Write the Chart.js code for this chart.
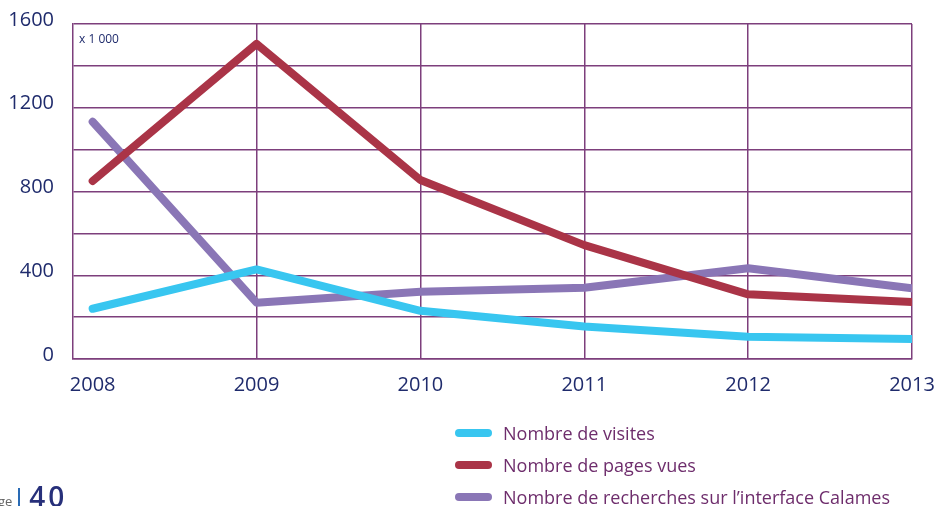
<!DOCTYPE html>
<html>
<head>
<meta charset="utf-8">
<script src="https://cdn.jsdelivr.net/npm/chart.js@4/dist/chart.umd.min.js"></script>
<style>
  html, body { margin: 0; padding: 0; background: #fff; overflow: hidden; }
  #wrap { position: relative; width: 939px; height: 506px; }
  #legend { position: absolute; left: 455px; top: 417px; font-family: 'Open Sans', sans-serif; font-size: 18px; color: #6e2d6c; }
  .item { display: flex; align-items: center; height: 32px; }
  .swatch { width: 37px; height: 8px; border-radius: 4px; margin-right: 11px; }
  #footer { position: absolute; left: -2px; top: 482px; font-family: 'Open Sans', sans-serif; white-space: nowrap; }
  #footer .ge { font-size: 13px; color: #666; vertical-align: bottom; }
  #footer .bar { display: inline-block; width: 2px; height: 22px; background: #2a6bb5; margin: 0 9px 0 6px; vertical-align: bottom; }
  #footer .num { font-size: 28px; font-weight: 600; color: #27307a; line-height: 28px; letter-spacing: 3px; vertical-align: bottom; }
</style>
</head>
<body>
<div id="wrap">
  <canvas id="lineChart"></canvas>
  <div id="legend"></div>
  <div id="footer"><span class="ge">ge</span><span class="bar"></span><span class="num">40</span></div>
</div>
<script>
// Data (values in thousands)
const years = [2008, 2009, 2010, 2011, 2012, 2013];
const visites = [240, 428, 230, 155, 106, 95];
const pagesVues = [850, 1505, 855, 544, 309, 272];
const recherches = [1133, 269, 321, 340, 433, 338];
const seriesNames = ['Nombre de visites', 'Nombre de pages vues', 'Nombre de recherches sur l\u2019interface Calames'];
const seriesColors = ['#38c6f0', '#aa3447', '#8a76b6'];
const yTickLabels = [0, 400, 800, 1200, 1600];

const gridColor = '#7d3f7c';
const tickColor = '#1f2b6c';

// small "x 1000" unit note in the top-left corner of the plot
const unitNote = {
    id: 'unitNote',
    afterDraw(chart) {
        const { ctx, chartArea } = chart;
        ctx.save();
        ctx.font = "12px 'Open Sans', sans-serif";
        ctx.fillStyle = tickColor;
        ctx.textBaseline = 'middle';
        ctx.fillText('x 1 000', chartArea.left + 6, chartArea.top + 16);
        ctx.restore();
    }
};

const toPoints = arr => arr.map((v, i) => ({ x: years[i], y: v }));

const ctx = document.getElementById('lineChart').getContext('2d');
const chart = new Chart(ctx, {
    type: 'line',
    data: {
        datasets: [visites, pagesVues, recherches].map((arr, i) => ({
            label: seriesNames[i],
            data: toPoints(arr),
            borderColor: seriesColors[i],
            backgroundColor: seriesColors[i],
            borderWidth: 8,
            borderCapStyle: 'round',
            borderJoinStyle: 'round',
            pointRadius: 0,
            tension: 0
        }))
    },
    options: {
        responsive: true,
        maintainAspectRatio: false,
        animation: false,
        layout: { padding: { left: 0, right: 27, top: 24, bottom: 107 } },
        plugins: {
            legend: { display: false },
            tooltip: { enabled: false }
        },
        scales: {
            x: {
                type: 'linear',
                min: 2007.88,
                max: 2013,
                afterBuildTicks: s => { s.ticks = years.map(v => ({ value: v })); },
                afterFit: s => { s.height = 40; s.paddingLeft = 0; s.paddingRight = 0; },
                border: { display: true, color: gridColor, width: 1.5 },
                grid: {
                    color: c => (c.tick && c.tick.value === years[0]) ? 'rgba(0,0,0,0)' : gridColor,
                    lineWidth: 1.5,
                    drawTicks: false
                },
                ticks: {
                    color: tickColor,
                    font: { family: "'Open Sans', sans-serif", size: 20 },
                    padding: 14,
                    maxRotation: 0,
                    callback: v => String(v)
                }
            },
            y: {
                min: 0,
                max: 1600,
                afterFit: s => { s.width = 73; s.paddingTop = 0; s.paddingBottom = 0; },
                border: { display: true, color: gridColor, width: 1.5 },
                grid: { color: gridColor, lineWidth: 1.5, drawTicks: false },
                ticks: {
                    stepSize: 200,
                    color: tickColor,
                    font: { family: "'Open Sans', sans-serif", size: 20 },
                    padding: 19,
                    labelOffset: -4,
                    callback: v => yTickLabels.includes(v) ? String(v) : ''
                }
            }
        }
    },
    plugins: [unitNote]
});

// HTML legend built from the datasets
const legendEl = document.getElementById('legend');
chart.data.datasets.forEach(ds => {
    const row = document.createElement('div');
    row.className = 'item';
    const sw = document.createElement('span');
    sw.className = 'swatch';
    sw.style.background = ds.borderColor;
    const txt = document.createElement('span');
    txt.textContent = ds.label;
    row.appendChild(sw);
    row.appendChild(txt);
    legendEl.appendChild(row);
});
</script>
</body>
</html>
